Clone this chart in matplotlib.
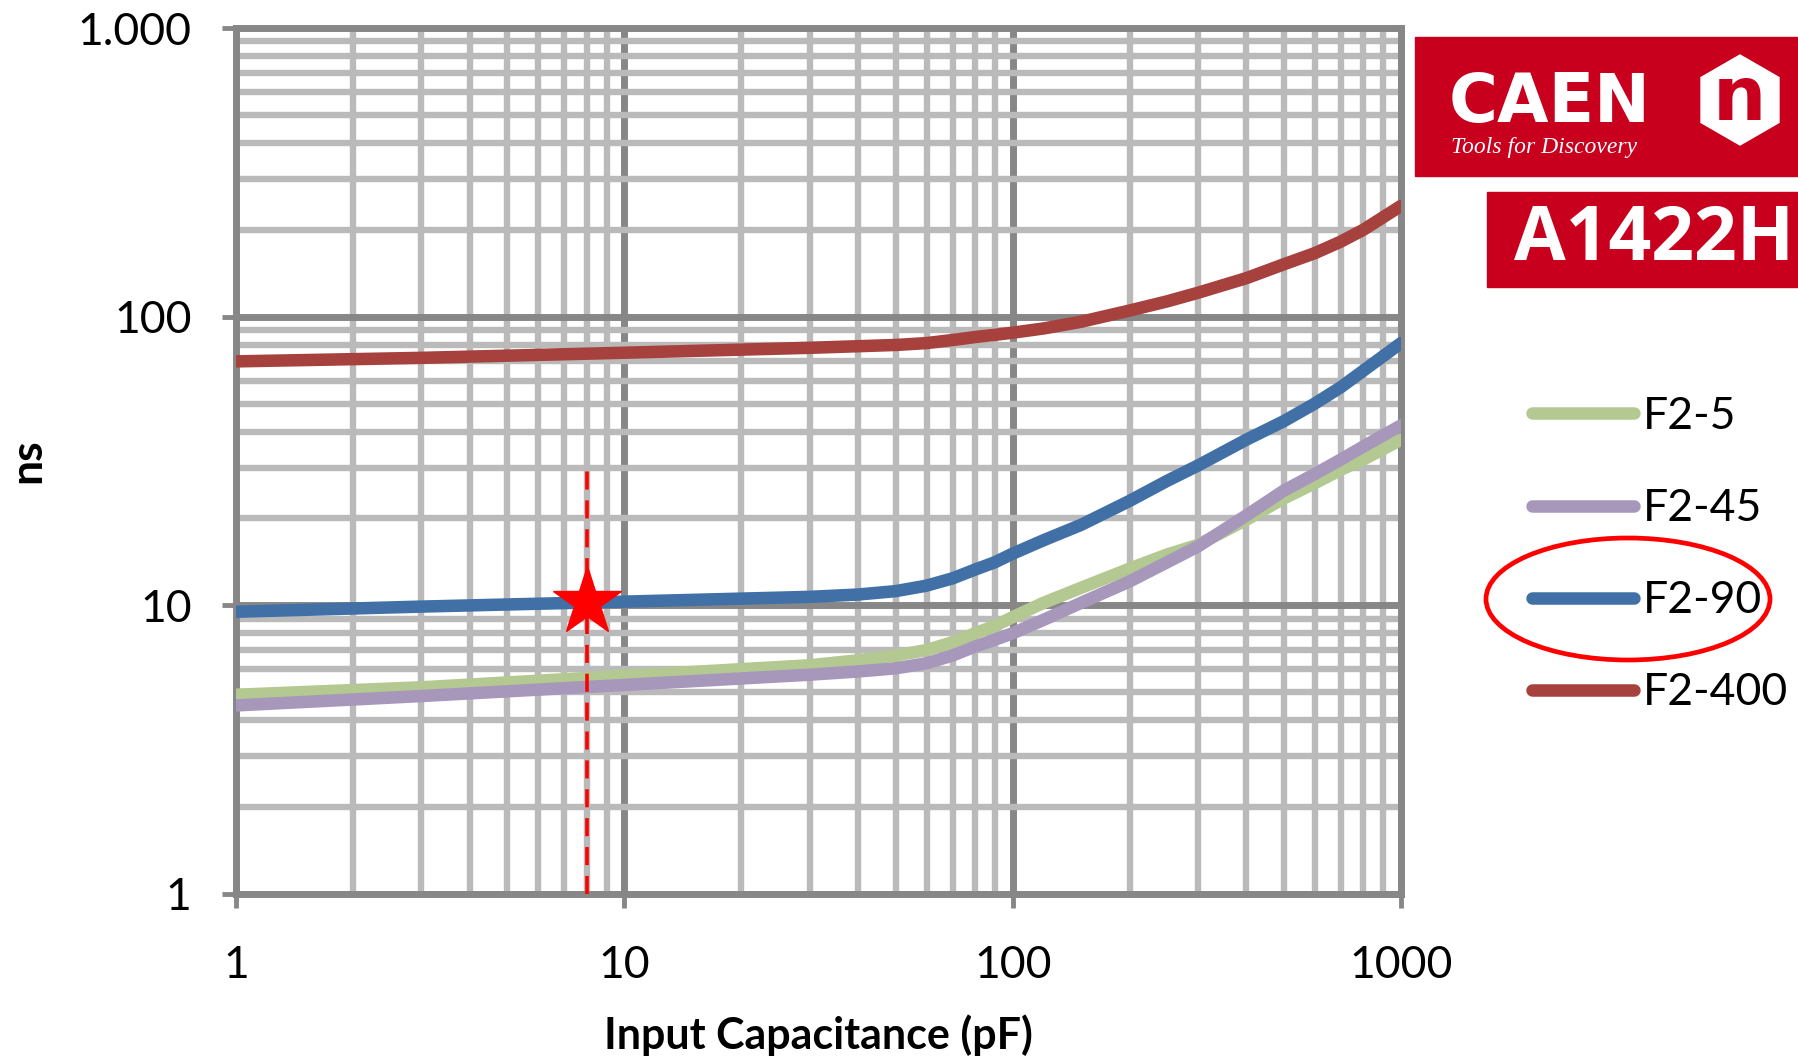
import numpy as np
import matplotlib
matplotlib.use("Agg")
import matplotlib.pyplot as plt
from matplotlib.patches import Rectangle, RegularPolygon, Ellipse

# values
cap = [1, 3, 10, 30, 40, 50, 60, 70, 80, 90, 100, 120, 150, 200, 250, 300,
       400, 500, 600, 700, 800, 1000]
f2_5 = [4.9, 5.2, 5.7, 6.2, 6.45, 6.7, 7.0, 7.45, 8.0, 8.5, 9.1, 10.2, 11.5, 13.4, 15.0, 16.2,
        19.8, 23.5, 26.5, 29.5, 32.0, 37.5]
f2_45 = [4.5, 4.85, 5.3, 5.75, 5.9, 6.05, 6.3, 6.7, 7.2, 7.6, 8.0, 8.9, 10.2, 12.1, 14.1, 16.0,
         20.5, 25.0, 28.5, 32.0, 35.5, 42.0]
f2_90 = [9.5, 9.9, 10.3, 10.7, 10.9, 11.2, 11.7, 12.4, 13.3, 14.1, 15.1, 16.8, 19.0, 23.0, 27.0, 30.5,
         37.5, 43.5, 50.0, 57.0, 65.0, 81.0]
f2_400 = [70, 72, 75, 78, 79, 79.8, 81, 83, 85, 86.5, 88, 91, 96, 105, 113, 121,
          136, 152, 166, 182, 200, 242]
series_names = ["F2-5", "F2-45", "F2-90", "F2-400"]
series_colors = ["#B3C991", "#A697BB", "#4170A7", "#A6413E"]

star_x = 8
star_y = 10.3
mark_top = 29.5

xticks = [1, 10, 100, 1000]
xlabels = ["1", "10", "100", "1000"]
yticks = [1, 10, 100, 1000]
ylabels = ["1", "10", "100", "1.000"]

W, H = 1798, 1061
fig = plt.figure(figsize=(W / 100, H / 100), dpi=100)
ax = fig.add_axes([236 / W, 1 - 894 / H, (1401 - 236) / W, (894 - 28) / H])

major_c = "#878787"
minor_c = "#BABABA"

for vals, name, col in zip([f2_5, f2_45, f2_90, f2_400], series_names, series_colors):
    ax.plot(cap, vals, color=col, lw=9, label=name, solid_capstyle="round",
            solid_joinstyle="round", zorder=3)

ax.plot([star_x, star_x], [1, mark_top], color="#FF0000", lw=2.6, dashes=(5, 3), zorder=4)
ax.plot(star_x, star_y, marker="*", ms=52, color="#FF0000", mec="#FF0000", zorder=5)

ax.set_xscale("log")
ax.set_yscale("log")
ax.set_xlim(1, 1000)
ax.set_ylim(1, 1000)
ax.set_xticks(xticks)
ax.set_xticklabels(xlabels)
ax.set_yticks(yticks)
ax.set_yticklabels(ylabels)

ax.grid(which="minor", color=minor_c, lw=4.6)
ax.grid(which="major", color=major_c, lw=5)
ax.set_axisbelow(True)
ax.tick_params(which="minor", length=0)
ax.tick_params(which="major", length=10, width=3.5, color=major_c, direction="out",
               labelsize=32)
ax.tick_params(axis="x", pad=27)
ax.tick_params(axis="y", pad=22)
for sp in ax.spines.values():
    sp.set_color(major_c)
    sp.set_linewidth(5)

tick_font = ["Lato", "DejaVu Sans"]
for lab in ax.get_xticklabels() + ax.get_yticklabels():
    lab.set_fontfamily(tick_font)

ax.set_xlabel("Input Capacitance (pF)", fontsize=31, fontweight="bold",
              family=tick_font, labelpad=20)
ax.set_ylabel("ns", fontsize=32, fontweight="bold", family=tick_font, labelpad=22)

leg = ax.legend(loc="upper left", bbox_to_anchor=(1532 / W, 1 - 396 / H),
                bbox_transform=fig.transFigure, frameon=False,
                handlelength=2.3, handletextpad=0.2, labelspacing=1.15,
                borderpad=0, borderaxespad=0, prop={"family": tick_font, "size": 32})
for line in leg.get_lines():
    line.set_linewidth(9)
    line.set_solid_capstyle("round")

# overlay in pixel coordinates for logo / highlight
ov = fig.add_axes([0, 0, 1, 1], zorder=10)
ov.set_xlim(0, W)
ov.set_ylim(H, 0)
ov.axis("off")
ov.patch.set_alpha(0)

red = "#C8001E"
ov.add_patch(Rectangle((1415, 37), W - 1415, 139, color=red))
ov.add_patch(Rectangle((1487, 192), W - 1487, 95, color=red))
ov.text(1449, 103, "CAEN", color="white", fontsize=48, fontweight="bold",
        family="DejaVu Sans", va="center", ha="left")
ov.text(1451, 147, "Tools for Discovery", color="white", fontsize=17, style="italic",
        family="Liberation Serif", va="center", ha="left")
ov.add_patch(RegularPolygon((1740, 100), numVertices=6, radius=45, orientation=0,
                            color="white"))
ov.text(1739, 100, "n", color=red, fontsize=54, fontweight="bold",
        family="DejaVu Sans", va="center", ha="center")
ov.text(1514, 240, "A1422H", color="white", fontsize=54, fontweight="bold",
        family=["Open Sans", "DejaVu Sans"], va="center", ha="left")
ov.add_patch(Ellipse((1628, 599), 284, 122, fill=False, ec="#FF0000", lw=3.4))

fig.savefig("out.png", dpi=100)
